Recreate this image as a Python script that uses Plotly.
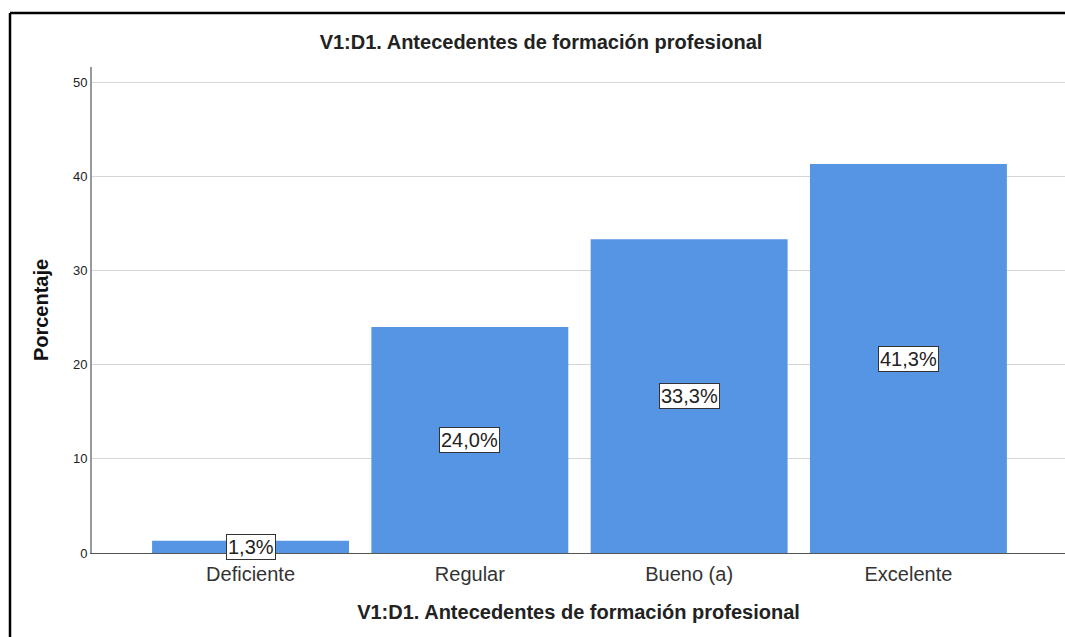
import plotly.graph_objects as go

categories = ["Deficiente", "Regular", "Bueno (a)", "Excelente"]
percentages = [1.3, 24.0, 33.3, 41.3]
y_ticks = [0, 10, 20, 30, 40, 50]
title_text = "V1:D1. Antecedentes de formación profesional"
y_title = "Porcentaje"

FONT = "Liberation Sans, Arial, sans-serif"

fig = go.Figure()
fig.add_trace(go.Bar(
    x=list(range(len(categories))),
    y=percentages,
    width=0.898,
    marker=dict(color="#5595E4", line=dict(width=0)),
    hoverinfo="skip",
))

for i, v in enumerate(percentages):
    fig.add_annotation(
        x=i, y=v / 2, xref="x", yref="y",
        text=f"{v:.1f}%".replace(".", ","),
        showarrow=False,
        font=dict(family=FONT, size=20, color="#222"),
        bgcolor="white", bordercolor="#333", borderwidth=1, borderpad=1,
    )

fig.update_layout(
    width=1065, height=637,
    margin=dict(l=92, r=0, t=67, b=84),
    paper_bgcolor="white", plot_bgcolor="white",
    showlegend=False,
    title=dict(text="<b>" + title_text + "</b>", x=541 / 1065, xanchor="center",
               y=1 - 42 / 637, yanchor="middle",
               font=dict(family=FONT, size=20, color="#222")),
    xaxis=dict(
        tickmode="array", tickvals=list(range(len(categories))), ticktext=categories,
        range=[-0.723, 3.714], showgrid=False, ticks="",
        showline=True, linecolor="#555", linewidth=1,
        tickfont=dict(family=FONT, size=20, color="#333"),
        ticklabelstandoff=3,
        title=dict(text="<b>" + title_text + "</b>", standoff=20,
                   font=dict(family=FONT, size=20, color="#222")),
        zeroline=False,
    ),
    yaxis=dict(
        range=[0, 51.6], tickvals=y_ticks, ticks="",
        showgrid=True, gridcolor="#d6d6d6", gridwidth=1,
        showline=True, linecolor="#999", linewidth=2,
        tickfont=dict(family=FONT, size=13, color="#222"),
        title=dict(text="<b>" + y_title + "</b>", standoff=19,
                   font=dict(family=FONT, size=20, color="#111")),
        zeroline=False,
    ),
)

# outer frame (SPSS-style border)
fig.add_shape(type="line", xref="paper", yref="paper",
              x0=(10 - 92) / 973, x1=1.2, y0=1 + (67 - 13) / 486, y1=1 + (67 - 13) / 486,
              line=dict(color="black", width=2.5))
fig.add_shape(type="line", xref="paper", yref="paper",
              x0=(10 - 92) / 973, x1=(10 - 92) / 973, y0=1 + (67 - 13) / 486, y1=-0.5,
              line=dict(color="black", width=2.5))

fig.write_html("out.html", config={"displayModeBar": False},
               post_script="document.body.style.margin='0px';document.body.style.overflow='hidden';")
